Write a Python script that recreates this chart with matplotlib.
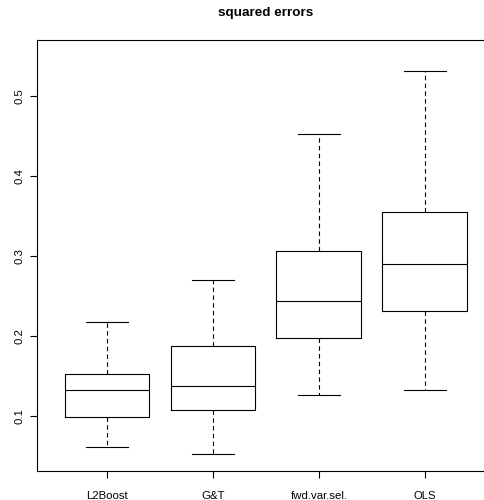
import matplotlib
matplotlib.use("Agg")
import matplotlib.pyplot as plt

plt.rcParams['font.family'] = ['Liberation Sans', 'DejaVu Sans']

categories = ["L2Boost", "G&T", "fwd.var.sel.", "OLS"]
whislo = [0.061, 0.052, 0.126, 0.133]
q1 = [0.099, 0.108, 0.198, 0.231]
med = [0.132, 0.138, 0.244, 0.290]
q3 = [0.1525, 0.188, 0.306, 0.355]
whishi = [0.218, 0.270, 0.452, 0.531]
yticks = [0.1, 0.2, 0.3, 0.4, 0.5]

W, H = 484, 500
fig = plt.figure(figsize=(W / 100, H / 100), dpi=100)
left, right, bottom, top = 37, 494.8, 471.3, 40
ax = fig.add_axes([left / W, 1 - bottom / H, (right - left) / W, (bottom - top) / H])

stats = []
for i, c in enumerate(categories):
    stats.append(dict(label=c, whislo=whislo[i], q1=q1[i], med=med[i],
                      q3=q3[i], whishi=whishi[i], fliers=[]))

lw = 0.8
ax.bxp(stats, positions=range(1, 5), widths=0.8, showfliers=False,
       boxprops=dict(color='black', linewidth=lw),
       medianprops=dict(color='black', linewidth=lw),
       whiskerprops=dict(color='black', linewidth=lw, linestyle=(0, (4, 3))),
       capprops=dict(color='black', linewidth=lw), capwidths=0.4)

ax.set_xlim(0.34, 4.66)
ax.set_ylim(0.0309, 0.57)
ax.set_xticks(range(1, 5))
ax.set_xticklabels(categories, fontsize=8.2)
ax.set_yticks(yticks)
ax.set_yticklabels([str(v) for v in yticks], fontsize=8.2, rotation=90, va='center')
ax.tick_params(length=5, width=lw)
ax.tick_params(axis='y', pad=4)
ax.tick_params(axis='x', pad=9)
for s in ax.spines.values():
    s.set_linewidth(lw)

fig.text((left + right) / 2 / W, 1 - 13 / H, "squared errors", fontsize=9.7,
         fontweight='bold', ha='center', va='center')

fig.savefig("out.png", dpi=100)
